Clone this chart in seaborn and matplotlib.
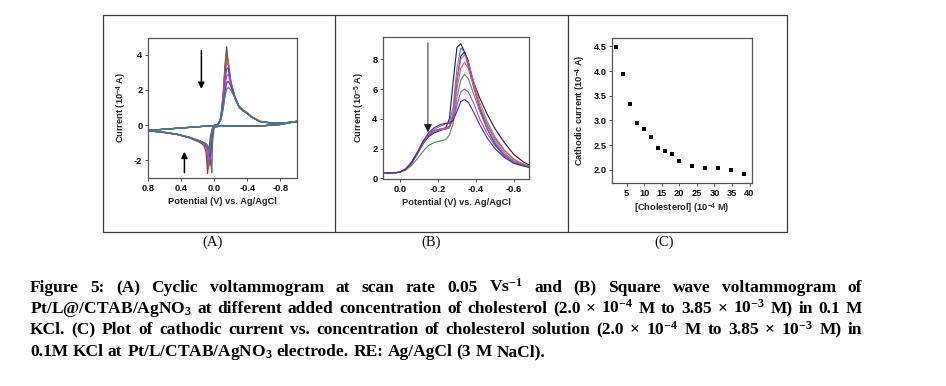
import matplotlib
matplotlib.use("Agg")
import pandas as pd
import matplotlib.pyplot as plt
import seaborn as sns
from matplotlib.patches import Rectangle
from matplotlib.lines import Line2D

# ---------------- data ----------------
# (A) cyclic voltammograms, forward sweep 0.8 -> -1.0 V
cv_fwd_E = [0.80, 0.60, 0.40, 0.20, 0.00, -0.05, -0.08, -0.11, -0.13, -0.15, -0.17,
            -0.20, -0.25, -0.30, -0.35, -0.40, -0.45, -0.55, -0.70, -0.85, -1.00]
cv_fwd_start = [-0.30, -0.23, -0.16, -0.09, -0.02, 0.06]
cv_fwd_peak = {
    "g1": [0.45, 1.9, 3.4, 4.45, 3.5, 2.4, 1.55, 1.05, 0.82, 0.68, 0.48, 0.22, 0.12, 0.13, 0.22],
    "g2": [0.42, 1.8, 3.2, 4.2, 3.4, 2.35, 1.5, 1.02, 0.80, 0.66, 0.46, 0.21, 0.12, 0.13, 0.21],
    "g3": [0.38, 1.5, 2.7, 3.5, 3.55, 2.5, 1.6, 1.05, 0.82, 0.67, 0.47, 0.21, 0.11, 0.12, 0.20],
    "red": [0.40, 1.6, 2.9, 3.8, 3.6, 2.5, 1.55, 1.02, 0.80, 0.66, 0.46, 0.20, 0.11, 0.12, 0.20],
    "blue": [0.36, 1.4, 2.5, 3.2, 3.25, 2.45, 1.6, 1.05, 0.82, 0.67, 0.47, 0.21, 0.11, 0.12, 0.20],
    "magenta": [0.34, 1.2, 2.2, 2.8, 2.9, 2.35, 1.6, 1.06, 0.83, 0.68, 0.47, 0.21, 0.11, 0.12, 0.20],
    "purple": [0.32, 1.05, 1.9, 2.4, 2.5, 2.2, 1.6, 1.08, 0.84, 0.69, 0.48, 0.22, 0.12, 0.13, 0.21],
    "teal": [0.30, 0.95, 1.65, 2.05, 2.15, 2.0, 1.55, 1.08, 0.85, 0.70, 0.49, 0.22, 0.12, 0.13, 0.21],
}
# reverse sweep -1.0 -> 0.8 V
cv_rev_E = [-1.00, -0.80, -0.60, -0.40, -0.20, -0.05, 0.00, 0.02, 0.03, 0.04, 0.05, 0.06,
            0.07, 0.08, 0.09, 0.10, 0.12, 0.15, 0.20, 0.30, 0.45, 0.60, 0.80]
cv_rev_start = [0.22, 0.04, -0.03, -0.05, -0.06, -0.07, -0.09]
cv_rev_spike = {
    "g1": [-0.15, -0.3, -0.5, -0.8, -1.2, -1.8, -2.75, -2.0, -1.5, -1.2, -1.05, -0.92, -0.72, -0.53, -0.42, -0.32],
    "g2": [-1.0, -2.7, -2.1, -1.7, -1.45, -1.3, -1.2, -1.15, -1.1, -1.02, -0.96, -0.87, -0.70, -0.52, -0.41, -0.31],
    "g3": [-0.3, -0.7, -1.3, -1.8, -2.2, -1.7, -1.4, -1.25, -1.15, -1.05, -0.98, -0.88, -0.70, -0.52, -0.41, -0.31],
    "red": [-0.2, -0.5, -0.9, -1.4, -1.9, -2.5, -1.8, -1.45, -1.25, -1.1, -1.0, -0.90, -0.71, -0.53, -0.42, -0.32],
    "blue": [-0.4, -1.0, -1.7, -2.3, -1.8, -1.5, -1.3, -1.2, -1.1, -1.05, -0.97, -0.88, -0.70, -0.52, -0.41, -0.31],
    "magenta": [-0.3, -0.7, -1.2, -1.6, -2.0, -1.6, -1.35, -1.2, -1.1, -1.02, -0.95, -0.86, -0.69, -0.52, -0.41, -0.31],
    "purple": [-0.35, -0.8, -1.3, -1.8, -1.5, -1.3, -1.2, -1.1, -1.05, -1.0, -0.94, -0.85, -0.69, -0.52, -0.41, -0.31],
    "teal": [-0.3, -0.6, -1.0, -1.3, -1.6, -1.35, -1.2, -1.1, -1.05, -1.0, -0.93, -0.85, -0.68, -0.51, -0.40, -0.30],
}
cv_colors = {"g1": "#505050", "g2": "#6a6a6a", "g3": "#858585", "red": "#e2453a",
             "blue": "#3b58d6", "magenta": "#d43ccb", "purple": "#7430b0", "teal": "#2f8a86"}

# (B) square wave voltammograms
sw_E = [0.09, 0.05, 0.02, 0.00, -0.03, -0.06, -0.09, -0.12, -0.15, -0.18, -0.21, -0.24, -0.26,
        -0.28, -0.30, -0.32, -0.34, -0.36, -0.39, -0.42, -0.46, -0.50, -0.55, -0.60, -0.65, -0.68]
sw_I = {
    "black": [0.35, 0.36, 0.38, 0.42, 0.6, 1.0, 1.6, 2.3, 2.8, 3.05, 3.2, 3.35, 4.0, 6.5, 8.8, 9.05,
              8.5, 7.6, 6.4, 5.4, 4.3, 3.35, 2.4, 1.6, 1.1, 0.9],
    "lightblue": [0.35, 0.36, 0.38, 0.42, 0.62, 1.05, 1.7, 2.4, 2.95, 3.3, 3.5, 3.65, 3.75, 4.8, 7.4,
                  8.75, 8.5, 7.5, 6.0, 4.8, 3.6, 2.7, 1.85, 1.25, 0.95, 0.82],
    "navy": [0.35, 0.36, 0.38, 0.42, 0.6, 1.0, 1.65, 2.35, 2.9, 3.2, 3.3, 3.3, 3.4, 4.2, 6.6, 8.2,
             8.5, 7.9, 6.2, 4.7, 3.3, 2.3, 1.5, 1.05, 0.85, 0.75],
    "orange": [0.35, 0.36, 0.38, 0.43, 0.65, 1.1, 1.75, 2.45, 2.95, 3.2, 3.3, 3.35, 3.5, 4.4, 6.6, 8.0,
               8.3, 7.8, 6.4, 5.1, 3.8, 2.8, 1.9, 1.3, 0.95, 0.8],
    "magenta": [0.35, 0.36, 0.38, 0.42, 0.6, 1.0, 1.65, 2.35, 2.9, 3.15, 3.25, 3.3, 3.4, 4.1, 6.0, 7.4,
                7.8, 7.4, 6.1, 4.8, 3.5, 2.55, 1.7, 1.15, 0.9, 0.78],
    "green": [0.35, 0.36, 0.38, 0.41, 0.55, 0.85, 1.3, 1.8, 2.2, 2.4, 2.5, 2.6, 2.9, 3.7, 5.4, 6.6,
              7.0, 6.7, 5.6, 4.5, 3.3, 2.4, 1.6, 1.1, 0.88, 0.77],
    "violet": [0.35, 0.36, 0.38, 0.42, 0.6, 1.0, 1.65, 2.35, 2.9, 3.15, 3.3, 3.4, 3.5, 3.9, 4.9, 5.8,
               6.0, 5.8, 5.0, 4.0, 3.0, 2.2, 1.5, 1.05, 0.85, 0.75],
    "purple": [0.35, 0.36, 0.38, 0.42, 0.62, 1.05, 1.7, 2.45, 3.05, 3.4, 3.6, 3.7, 3.7, 3.9, 4.5, 5.15,
               5.3, 5.1, 4.4, 3.6, 2.7, 2.0, 1.4, 1.0, 0.82, 0.74],
}
sw_colors = {"black": "#222222", "lightblue": "#4a7ed8", "navy": "#1f1f9a", "orange": "#e8603a",
             "magenta": "#dd42d0", "green": "#3a9a4a", "violet": "#a546e0", "purple": "#4b2aa8"}

# (C) cathodic current vs cholesterol concentration
chol_conc = [2.0, 4.0, 6.0, 8.0, 10.0, 12.0, 14.0, 16.0, 18.0, 20.0, 23.7, 27.3, 31.0, 34.8, 38.5]
cath_current = [4.48, 3.93, 3.33, 2.95, 2.82, 2.66, 2.44, 2.38, 2.31, 2.17, 2.07, 2.04, 2.04, 1.99, 1.92]

caption_lines = [
    "Figure 5: (A) Cyclic voltammogram at scan rate 0.05 Vs$^{-1}$ and (B) Square wave voltammogram of",
    "Pt/L@/CTAB/AgNO$_{3}$ at different added concentration of cholesterol (2.0 × 10$^{-4}$ M to 3.85 × 10$^{-3}$ M) in 0.1 M",
    "KCl. (C) Plot of cathodic current vs. concentration of cholesterol solution (2.0 × 10$^{-4}$ M to 3.85 × 10$^{-3}$ M) in",
    "0.1M KCl at Pt/L/CTAB/AgNO$_{3}$ electrode. RE: Ag/AgCl (3 M NaCl).",
]

# ---------------- styling ----------------
sns.set_theme(style="white")
plt.rcParams["font.family"] = ["Liberation Sans", "DejaVu Sans"]
plt.rcParams["font.weight"] = "bold"
plt.rcParams["axes.labelweight"] = "bold"
plt.rcParams["axes.unicode_minus"] = False
plt.rcParams["mathtext.fontset"] = "custom"
plt.rcParams["mathtext.rm"] = "Liberation Serif:bold"
plt.rcParams["mathtext.it"] = "Liberation Serif:italic:bold"
plt.rcParams["mathtext.bf"] = "Liberation Serif:bold"
plt.rcParams["mathtext.sf"] = "Liberation Sans:bold"

W, H = 946, 386
LBL = 6.7
fig = plt.figure(figsize=(W / 100, H / 100), dpi=100)


def axes_px(left, top, right, bottom):
    return fig.add_axes([left / W, 1 - bottom / H, (right - left) / W, (bottom - top) / H])


def style(ax):
    for s in ax.spines.values():
        s.set_color("#555555")
        s.set_linewidth(0.9)
    ax.tick_params(direction="out", length=2.5, width=0.6, colors="#333333",
                   labelsize=LBL, pad=1.5, bottom=True, left=True)
    for lab in ax.get_xticklabels() + ax.get_yticklabels():
        lab.set_fontweight("bold")
        lab.set_color("#111111")


# ---- (A) ----
axA = axes_px(148, 38, 297, 178)
for key in cv_fwd_peak:
    E = cv_fwd_E + cv_rev_E
    I = cv_fwd_start + cv_fwd_peak[key] + cv_rev_start + cv_rev_spike[key]
    sns.lineplot(x=E, y=I, ax=axA, sort=False, estimator=None, color=cv_colors[key], lw=0.9)
axA.set_xlim(0.8, -1.0)
axA.set_ylim(-3.0, 4.95)
axA.set_xticks([0.8, 0.4, 0.0, -0.4, -0.8])
axA.set_xticklabels(["0.8", "0.4", "0.0", "-0.4", "-0.8"])
axA.set_yticks([4, 2, 0, -2])
axA.set_yticklabels(["4", "2", "0", "-2"])
axA.set_xlabel("Potential (V) vs. Ag/AgCl", fontsize=LBL, labelpad=3)
axA.set_ylabel("Current (10$^{\\mathsf{-4}}$ A)", fontsize=LBL, labelpad=4)
axA.annotate("", xy=(0.155, 1.9), xytext=(0.155, 4.4),
             arrowprops=dict(arrowstyle="-|>", color="black", lw=1.1, mutation_scale=9))
axA.annotate("", xy=(0.36, -1.35), xytext=(0.36, -2.85),
             arrowprops=dict(arrowstyle="-|>", color="black", lw=1.1, mutation_scale=9))
style(axA)

# ---- (B) ----
axB = axes_px(383, 37, 529, 179)
for key, vals in sw_I.items():
    sns.lineplot(x=sw_E, y=vals, ax=axB, sort=False, estimator=None, color=sw_colors[key], lw=0.8)
axB.set_xlim(0.09, -0.68)
axB.set_ylim(-0.05, 9.5)
axB.set_xticks([0.0, -0.2, -0.4, -0.6])
axB.set_xticklabels(["0.0", "-0.2", "-0.4", "-0.6"])
axB.set_yticks([0, 2, 4, 6, 8])
axB.set_xlabel("Potential (V) vs. Ag/AgCl", fontsize=LBL, labelpad=3)
axB.set_ylabel("Current (10$^{\\mathsf{-5}}$ A)", fontsize=LBL, labelpad=4)
axB.annotate("", xy=(-0.147, 2.9), xytext=(-0.147, 9.3),
             arrowprops=dict(arrowstyle="-|>", color="#222222", lw=0.7, mutation_scale=12))
style(axB)

# ---- (C) ----
axC = axes_px(612, 38, 752, 183)
sns.scatterplot(x=chol_conc, y=cath_current, ax=axC, marker="s", s=5, color="black",
                edgecolor="black", linewidth=0)
axC.set_xlim(0.8, 40.7)
axC.set_ylim(1.73, 4.67)
axC.set_xticks([5, 10, 15, 20, 25, 30, 35, 40])
axC.set_yticks([2.0, 2.5, 3.0, 3.5, 4.0, 4.5])
axC.set_yticklabels(["2.0", "2.5", "3.0", "3.5", "4.0", "4.5"])
axC.set_xlabel("[Cholesterol] (10$^{\\mathsf{-4}}$ M)", fontsize=LBL, labelpad=3)
axC.set_ylabel("Cathodic current (10$^{\\mathsf{-4}}$ A)", fontsize=LBL, labelpad=4)
style(axC)

# ---- panel frames ----
fig.add_artist(Rectangle((103 / W, 1 - 232 / H), (787 - 103) / W, (232 - 15) / H,
                         transform=fig.transFigure, fill=False, ec="#3a3a3a", lw=0.9))
for xv in (335, 568):
    fig.add_artist(Line2D([xv / W, xv / W], [1 - 232 / H, 1 - 15 / H],
                          transform=fig.transFigure, color="#3a3a3a", lw=0.9))

for lab, xc in (("(A)", 213), ("(B)", 431), ("(C)", 664)):
    fig.text(xc / W, 1 - 242 / H, lab, ha="center", va="center", fontsize=10.5,
             family="Liberation Serif", fontweight="normal", color="#111111")

# ---- justified caption ----
renderer = fig.canvas.get_renderer()
fs = 12.5
x_left, x_right = 30, 862
baselines = [292, 313, 334.5, 356]
for i, line in enumerate(caption_lines):
    words = line.split(" ")
    texts = [fig.text(0, 0, w, fontsize=fs, family="Liberation Serif", fontweight="bold",
                      ha="left", va="baseline", color="black") for w in words]
    widths = [t.get_window_extent(renderer).width for t in texts]
    if i < len(caption_lines) - 1:
        gap = (x_right - x_left - sum(widths)) / (len(words) - 1)
    else:
        gap = fs * 0.25 * 100 / 72
    x = x_left
    for t, w in zip(texts, widths):
        t.set_position((x / W, 1 - baselines[i] / H))
        x += w + gap

fig.savefig("out.png", dpi=100)
